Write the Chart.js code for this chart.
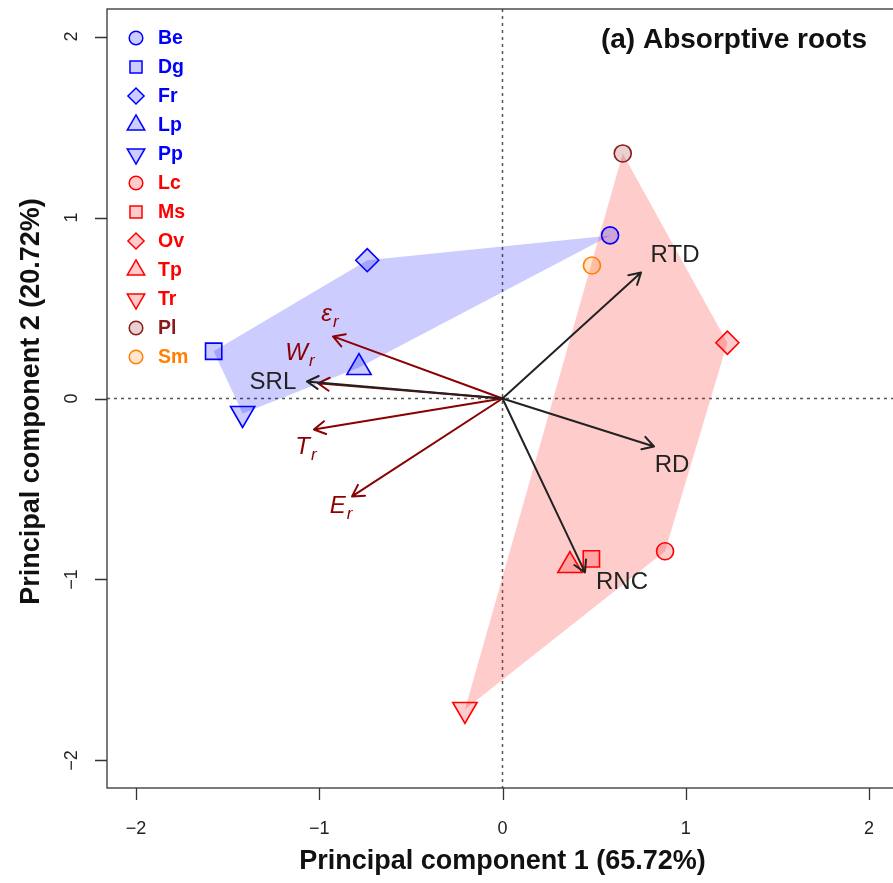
<!DOCTYPE html>
<html>
<head>
<meta charset="utf-8">
<title>PCA of absorptive root traits</title>
<script src="https://cdn.jsdelivr.net/npm/chart.js@4.4.1/dist/chart.umd.min.js"></script>
<style>
  html, body { margin: 0; padding: 0; background: #ffffff; overflow: hidden; }
  #wrap { width: 900px; height: 883px; }
</style>
</head>
<body>
<div id="wrap"><canvas id="pca" width="900" height="883"></canvas></div>
<script>
// ---- site scores (PC1, PC2) ----
const species = ['Be', 'Dg', 'Fr', 'Lp', 'Pp', 'Lc', 'Ms', 'Ov', 'Tp', 'Tr', 'Pl', 'Sm'];
const pc1 = [0.587, -1.576, -0.738, -0.783, -1.418, 0.887, 0.485, 1.227, 0.368, -0.205, 0.656, 0.488];
const pc2 = [0.901, 0.261, 0.764, 0.171, -0.083, -0.844, -0.886, 0.308, -0.923, -1.718, 1.354, 0.735];
const groupOf = [1, 1, 1, 1, 1, 2, 2, 2, 2, 2, 2, 2];

// ---- trait loadings ----
const traits = ['RTD', 'RD', 'RNC', 'SRL', 'W', 'ε', 'T', 'E'];
const traitSub = ['', '', '', '', 'r', 'r', 'r', 'r'];
const loadX = [0.756, 0.827, 0.450, -1.067, -1.007, -0.925, -1.029, -0.821];
const loadY = [0.696, -0.265, -0.961, 0.094, 0.084, 0.343, -0.171, -0.541];
const traitSet = ['morph', 'morph', 'morph', 'morph', 'mech', 'mech', 'mech', 'mech'];

// ---- axis ticks and titles ----
const tickValues = [-2, -1, 0, 1, 2];
const xTitle = 'Principal component 1 (65.72%)';
const yTitle = 'Principal component 2 (20.72%)';
const panelTitle = '(a) Absorptive roots';

// ---- styling ----
const FONT = "'Liberation Sans', Arial, Helvetica, sans-serif";
const speciesStyle = {
  Be: { shape: 'circle',  r: 8.5,  color: '#0000FF', fill: 'rgba(0,0,255,0.2)' },
  Dg: { shape: 'rect',    r: 11.5, color: '#0000FF', fill: 'rgba(0,0,255,0.2)' },
  Fr: { shape: 'rectRot', r: 11.5, color: '#0000FF', fill: 'rgba(0,0,255,0.2)' },
  Lp: { shape: 'triangle', r: 14, color: '#0000FF', fill: 'rgba(0,0,255,0.2)' },
  Pp: { shape: 'triangleDown', r: 14, color: '#0000FF', fill: 'rgba(0,0,255,0.2)' },
  Lc: { shape: 'circle',  r: 8.5,  color: '#FF0000', fill: 'rgba(255,0,0,0.2)' },
  Ms: { shape: 'rect',    r: 11.5, color: '#FF0000', fill: 'rgba(255,0,0,0.2)' },
  Ov: { shape: 'rectRot', r: 11.5, color: '#FF0000', fill: 'rgba(255,0,0,0.2)' },
  Tp: { shape: 'triangle', r: 14, color: '#FF0000', fill: 'rgba(255,0,0,0.2)' },
  Tr: { shape: 'triangleDown', r: 14, color: '#FF0000', fill: 'rgba(255,0,0,0.2)' },
  Pl: { shape: 'circle',  r: 8.5,  color: '#8B1A1A', fill: 'rgba(139,26,26,0.2)' },
  Sm: { shape: 'circle',  r: 8.5,  color: '#FF7F00', fill: 'rgba(255,127,0,0.2)' }
};
const hullFill = { 1: 'rgba(0,0,255,0.2)', 2: 'rgba(255,0,0,0.2)' };
const arrowColor = { morph: '#222222', mech: '#8B0000' };
// label centre relative to the arrow tip, in pixels
const labelOffset = {
  RTD: [34, -17], RD: [18, 19], RNC: [37, 10], SRL: [-34, 1],
  W: [-18, -28], 'ε': [-3, -20], T: [-8, 20], E: [-11, 12]
};

function chartPointStyle(shape) {
  return shape === 'triangleDown' ? 'triangle' : shape;
}

const datasets = species.map((name, i) => {
  const st = speciesStyle[name];
  return {
    label: name,
    data: [{ x: pc1[i], y: pc2[i] }],
    pointStyle: chartPointStyle(st.shape),
    rotation: st.shape === 'triangleDown' ? 180 : 0,
    pointRadius: st.r,
    pointHoverRadius: st.r,
    borderColor: st.color,
    backgroundColor: st.fill,
    pointBorderWidth: 1.6,
    showLine: false
  };
});

// simple shape painter for the legend keys
function paintShape(ctx, shape, x, y, r) {
  ctx.beginPath();
  if (shape === 'circle') {
    ctx.arc(x, y, r, 0, Math.PI * 2);
  } else if (shape === 'rect') {
    const h = r * Math.SQRT1_2;
    ctx.rect(x - h, y - h, 2 * h, 2 * h);
  } else if (shape === 'rectRot') {
    ctx.moveTo(x, y - r); ctx.lineTo(x + r, y); ctx.lineTo(x, y + r); ctx.lineTo(x - r, y);
    ctx.closePath();
  } else {
    const s = shape === 'triangle' ? 1 : -1;
    for (let k = 0; k < 3; k++) {
      const a = k * 2 * Math.PI / 3;
      const px = x + Math.sin(a) * r;
      const py = y - s * Math.cos(a) * r;
      if (k === 0) ctx.moveTo(px, py); else ctx.lineTo(px, py);
    }
    ctx.closePath();
  }
}

function convexHull(pts) {
  const p = pts.slice().sort((a, b) => a[0] - b[0] || a[1] - b[1]);
  const cross = (o, a, b) => (a[0] - o[0]) * (b[1] - o[1]) - (a[1] - o[1]) * (b[0] - o[0]);
  const lower = [], upper = [];
  for (const q of p) {
    while (lower.length >= 2 && cross(lower[lower.length - 2], lower[lower.length - 1], q) <= 0) lower.pop();
    lower.push(q);
  }
  for (let i = p.length - 1; i >= 0; i--) {
    const q = p[i];
    while (upper.length >= 2 && cross(upper[upper.length - 2], upper[upper.length - 1], q) <= 0) upper.pop();
    upper.push(q);
  }
  upper.pop(); lower.pop();
  return lower.concat(upper);
}

function drawArrow(ctx, x0, y0, x1, y1, color) {
  const ang = Math.atan2(y1 - y0, x1 - x0);
  const head = 13, spread = Math.PI / 6;
  ctx.save();
  ctx.strokeStyle = color;
  ctx.lineWidth = 2;
  ctx.lineCap = 'round';
  ctx.lineJoin = 'round';
  ctx.beginPath();
  ctx.moveTo(x0, y0); ctx.lineTo(x1, y1);
  ctx.moveTo(x1 - head * Math.cos(ang - spread), y1 - head * Math.sin(ang - spread));
  ctx.lineTo(x1, y1);
  ctx.lineTo(x1 - head * Math.cos(ang + spread), y1 - head * Math.sin(ang + spread));
  ctx.stroke();
  ctx.restore();
}

const biplotPlugin = {
  id: 'biplot',
  beforeDatasetsDraw(chart) {
    const { ctx, chartArea: a, scales: { x, y } } = chart;
    ctx.save();
    ctx.beginPath(); ctx.rect(a.left, a.top, a.right - a.left, a.bottom - a.top); ctx.clip();
    // reference lines through the origin
    ctx.strokeStyle = '#555555';
    ctx.lineWidth = 1.5;
    ctx.setLineDash([3, 4]);
    ctx.beginPath();
    ctx.moveTo(x.getPixelForValue(0), a.top); ctx.lineTo(x.getPixelForValue(0), a.bottom);
    ctx.moveTo(a.left, y.getPixelForValue(0)); ctx.lineTo(a.right, y.getPixelForValue(0));
    ctx.stroke();
    ctx.setLineDash([]);
    // group hulls
    [1, 2].forEach(g => {
      const pts = [];
      species.forEach((s, i) => { if (groupOf[i] === g) pts.push([x.getPixelForValue(pc1[i]), y.getPixelForValue(pc2[i])]); });
      const hull = convexHull(pts);
      ctx.fillStyle = hullFill[g];
      ctx.beginPath();
      hull.forEach((p, k) => { if (k === 0) ctx.moveTo(p[0], p[1]); else ctx.lineTo(p[0], p[1]); });
      ctx.closePath();
      ctx.fill();
    });
    ctx.restore();
  },
  afterDatasetsDraw(chart) {
    const { ctx, scales: { x, y } } = chart;
    const ox = x.getPixelForValue(0), oy = y.getPixelForValue(0);
    // mechanical traits first, morphological on top
    const order = traits.map((t, i) => i).sort((a, b) => (traitSet[a] === 'mech' ? 0 : 1) - (traitSet[b] === 'mech' ? 0 : 1));
    order.forEach(i => {
      drawArrow(ctx, ox, oy, x.getPixelForValue(loadX[i]), y.getPixelForValue(loadY[i]), arrowColor[traitSet[i]]);
    });
    traits.forEach((t, i) => {
      const tx = x.getPixelForValue(loadX[i]) + labelOffset[t][0];
      const ty = y.getPixelForValue(loadY[i]) + labelOffset[t][1];
      ctx.save();
      ctx.fillStyle = arrowColor[traitSet[i]];
      ctx.textBaseline = 'middle';
      if (!traitSub[i]) {
        ctx.font = '24px ' + FONT;
        ctx.textAlign = 'center';
        ctx.fillText(t, tx, ty);
      } else {
        const mainFont = 'italic 24px ' + FONT, subFont = 'italic 17px ' + FONT;
        ctx.font = mainFont; const wm = ctx.measureText(t).width;
        ctx.font = subFont; const ws = ctx.measureText(traitSub[i]).width;
        const left = tx - (wm + ws + 1) / 2;
        ctx.textAlign = 'left';
        ctx.font = mainFont; ctx.fillText(t, left, ty - 2);
        ctx.font = subFont; ctx.fillText(traitSub[i], left + wm + 1, ty + 6);
      }
      ctx.restore();
    });
  },
  afterDraw(chart) {
    const { ctx, chartArea: a, scales: { x, y } } = chart;
    ctx.save();
    // frame
    ctx.strokeStyle = '#333333';
    ctx.lineWidth = 1.3;
    ctx.strokeRect(a.left, a.top, a.right - a.left, a.bottom - a.top);
    // ticks
    ctx.beginPath();
    tickValues.forEach(v => {
      const px = Math.round(x.getPixelForValue(v)) + 0.5;
      ctx.moveTo(px, a.bottom); ctx.lineTo(px, a.bottom + 12);
      const py = Math.round(y.getPixelForValue(v)) + 0.5;
      ctx.moveTo(a.left, py); ctx.lineTo(a.left - 12, py);
    });
    ctx.stroke();
    // tick labels
    ctx.fillStyle = '#222222';
    ctx.font = '18px ' + FONT;
    ctx.textAlign = 'center';
    ctx.textBaseline = 'middle';
    const fmt = v => (v < 0 ? '\u2212' + Math.abs(v) : String(v));
    tickValues.forEach(v => {
      ctx.fillText(fmt(v), x.getPixelForValue(v), a.bottom + 41);
      ctx.save();
      ctx.translate(a.left - 35, y.getPixelForValue(v));
      ctx.rotate(-Math.PI / 2);
      ctx.fillText(fmt(v), 0, 0);
      ctx.restore();
    });
    // axis titles
    ctx.fillStyle = '#111111';
    ctx.font = 'bold 27px ' + FONT;
    ctx.fillText(xTitle, (a.left + a.right) / 2, a.bottom + 74);
    ctx.save();
    ctx.translate(32, (a.top + a.bottom) / 2 + 3);
    ctx.rotate(-Math.PI / 2);
    ctx.fillText(yTitle, 0, 0);
    ctx.restore();
    // panel title
    ctx.font = 'bold 28px ' + FONT;
    ctx.textAlign = 'right';
    ctx.fillText(panelTitle, 867, 40);
    // legend
    ctx.font = 'bold 19.5px ' + FONT;
    ctx.textAlign = 'left';
    const legendScale = { circle: 0.8, rect: 0.74, rectRot: 0.7, triangle: 0.72, triangleDown: 0.72 };
    species.forEach((name, i) => {
      const st = speciesStyle[name];
      const ly = 38 + i * 29;
      paintShape(ctx, st.shape, 136, ly, st.r * legendScale[st.shape]);
      ctx.fillStyle = st.fill; ctx.fill();
      ctx.strokeStyle = st.color; ctx.lineWidth = 1.5; ctx.stroke();
      ctx.fillStyle = st.color;
      ctx.fillText(name, 158, ly + 1);
    });
    ctx.restore();
  }
};

new Chart(document.getElementById('pca'), {
  type: 'scatter',
  data: { datasets },
  options: {
    responsive: false,
    devicePixelRatio: 1,
    animation: false,
    events: [],
    layout: { autoPadding: false, padding: { top: 9, right: 2, left: 0, bottom: 0 } },
    plugins: { legend: { display: false }, tooltip: { enabled: false }, title: { display: false } },
    scales: {
      x: {
        type: 'linear', min: -2.158, max: 2.158,
        ticks: { display: false }, grid: { display: false }, border: { display: false },
        afterFit(s) { s.height = 95; }
      },
      y: {
        type: 'linear', min: -2.152, max: 2.152,
        ticks: { display: false }, grid: { display: false }, border: { display: false },
        afterFit(s) { s.width = 107; }
      }
    }
  },
  plugins: [biplotPlugin]
});
</script>
</body>
</html>
